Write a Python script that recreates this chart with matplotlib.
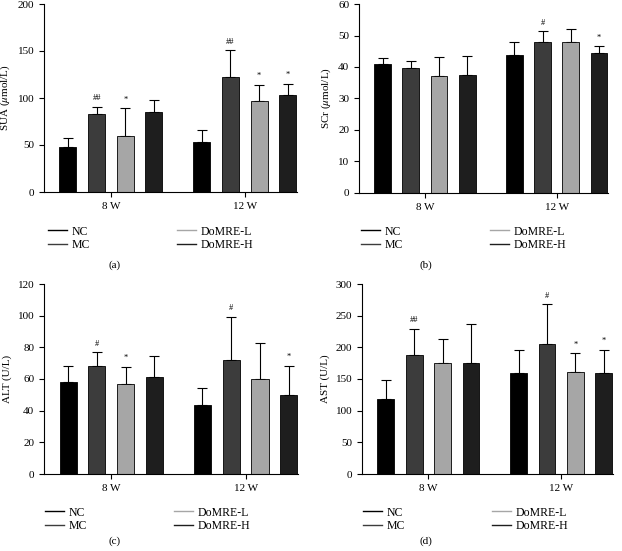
import matplotlib.pyplot as plt
import numpy as np

plt.rcParams['font.family'] = ['Liberation Serif', 'DejaVu Serif']
plt.rcParams['mathtext.fontset'] = 'stix'

groups = ['NC', 'MC', 'DoMRE-L', 'DoMRE-H']
weeks = ['8 W', '12 W']
colors = ['#000000', '#3c3c3c', '#a6a6a6', '#1e1e1e']

# SUA (umol/L): rows = groups, cols = 8 W, 12 W
sua_mean = [[48, 53.5], [83.5, 122.8], [60, 96.3], [85, 103]]
sua_err = [[9, 12.5], [7, 28], [29, 18], [12.5, 12]]
sua_mark = [['', ''], ['##', '##'], ['*', '*'], ['', '*']]

# SCr (umol/L)
scr_mean = [[40.9, 43.9], [39.8, 47.8], [37.1, 47.9], [37.5, 44.4]]
scr_err = [[2.1, 3.9], [2.1, 3.5], [6.1, 4.1], [6.0, 2.2]]
scr_mark = [['', ''], ['', '#'], ['', ''], ['', '*']]

# ALT (U/L)
alt_mean = [[58.3, 43.8], [68.4, 72.2], [56.6, 59.8], [61.5, 50.1]]
alt_err = [[9.9, 10.5], [8.4, 27.2], [11, 23.2], [13.2, 18.3]]
alt_mark = [['', ''], ['#', '#'], ['*', ''], ['', '*']]

# AST (U/L)
ast_mean = [[119, 158.7], [188, 205.6], [176, 161.3], [175, 158.7]]
ast_err = [[29.7, 36.9], [40.8, 62.2], [36.4, 29], [61.7, 36.9]]
ast_mark = [['', ''], ['##', '#'], ['', '*'], ['', '*']]

W, H = 622, 551
fig = plt.figure(figsize=(W/100, H/100), dpi=100)

# rect in px, legend first-line start (px), caption position (px)
panels = [
    ([44, 192, 253, 188], sua_mean, sua_err, sua_mark,
     r'SUA ($\mu$mol/L)', 200, 50, (47, 229), '(a)', (115, 265)),
    ([359, 193, 249, 189], scr_mean, scr_err, scr_mark,
     r'SCr ($\mu$mol/L)', 60, 10, (360, 229), '(b)', (426, 265)),
    ([44, 474, 254, 190], alt_mean, alt_err, alt_mark,
     'ALT (U/L)', 120, 20, (44, 510), '(c)', (115, 541)),
    ([362, 474, 251, 190], ast_mean, ast_err, ast_mark,
     'AST (U/L)', 300, 50, (362, 510), '(d)', (426, 541)),
]

x = np.arange(len(weeks))
step = 0.214
bw = 0.127
lfs = 8.5
em = lfs * 100 / 72

for r, mean, err, mark, ylab, ymax, ystep, lpos, cap, cpos in panels:
    ax = fig.add_axes([r[0]/W, 1 - r[1]/H, r[2]/W, r[3]/H])
    handles = []
    for i, g in enumerate(groups):
        xs = x + (i - 1.5) * step
        ax.bar(xs, mean[i], bw, color=colors[i], edgecolor='black', linewidth=0.6, zorder=2)
        ax.errorbar(xs, mean[i], yerr=[np.zeros(2), err[i]], fmt='none',
                    ecolor='black', elinewidth=0.8, capsize=3.5, capthick=0.8, zorder=1)
        for j in range(2):
            if mark[i][j]:
                ax.text(xs[j], mean[i][j] + err[i][j] + ymax * 0.025, mark[i][j],
                        ha='center', va='bottom', fontsize=6)
        h, = ax.plot([], [], color=colors[i], lw=1.0, label=g)
        handles.append(h)
    ax.set_xlim(-0.5, 1.39)
    ax.set_ylim(0, ymax)
    ax.set_yticks(np.arange(0, ymax + 1, ystep))
    ax.set_xticks(x)
    ax.set_xticklabels(weeks)
    ax.set_ylabel(ylab, fontsize=8)
    ax.spines['top'].set_visible(False)
    ax.spines['right'].set_visible(False)
    ax.tick_params(labelsize=8, length=3.5, width=0.8, direction='out')
    ax.legend(handles=handles, ncol=2, loc='upper left',
              bbox_to_anchor=((lpos[0] - 0.4*em - 5)/W, 1 - (lpos[1] - 14)/H),
              bbox_transform=fig.transFigure, frameon=False, fontsize=lfs,
              handlelength=1.6, handletextpad=0.45, columnspacing=7.3,
              labelspacing=0.1)
    fig.text(cpos[0]/W, 1 - cpos[1]/H, cap, ha='center', va='center', fontsize=8)

plt.savefig('out.png', dpi=100)
